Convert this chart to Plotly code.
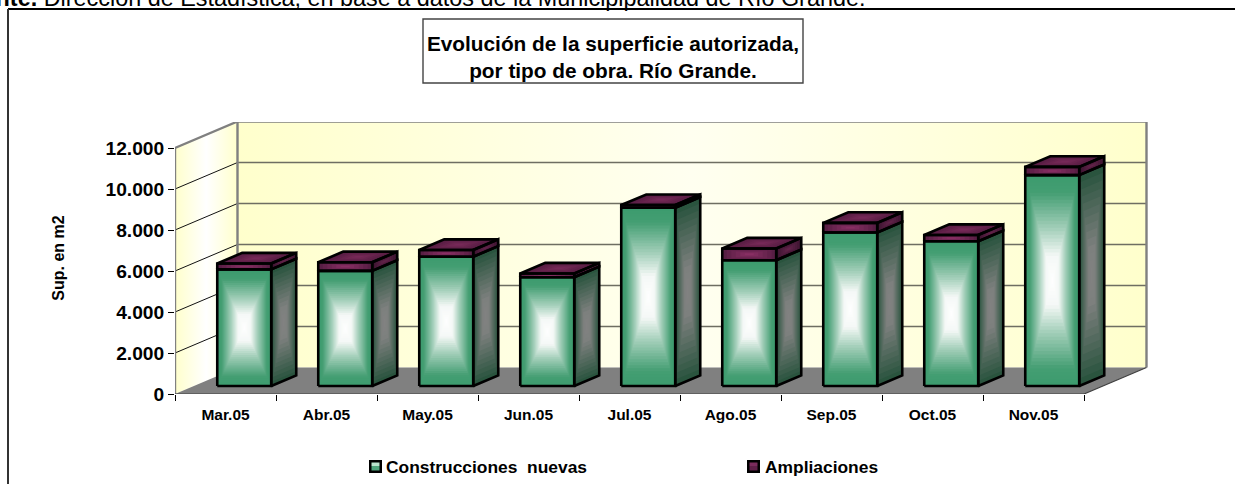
import plotly.graph_objects as go

# ---- data ----
categories = ["Mar.05", "Abr.05", "May.05", "Jun.05", "Jul.05", "Ago.05", "Sep.05", "Oct.05", "Nov.05"]
construcciones = [5690, 5620, 6310, 5310, 8700, 6140, 7490, 7060, 10290]
ampliaciones = [290, 420, 330, 180, 130, 570, 470, 310, 400]
y_ticks = [0, 2000, 4000, 6000, 8000, 10000, 12000]
y_labels = ["0", "2.000", "4.000", "6.000", "8.000", "10.000", "12.000"]

# ---- layout / projection ----
W, H = 1235, 484
L, R, T, B = 175, 1148, 122, 394
PX_X = 101.0        # px per category
PX_Y = 20.5 / 1000  # px per value unit
DX = 62.5 / PX_X    # full depth expressed in category units
DY = 26.5 / PX_Y    # full depth expressed in value units
BAR_W = 54 / PX_X
D0, D1 = 0.30, 0.70
FONT = "Liberation Sans, Arial, sans-serif"


def px(x):
    return (x - L) / (R - L)


def py(y):
    return (B - y) / (B - T)


def pj(x, v, d):
    return x + d * DX, v + d * DY


def mix(a, b, f):
    return "rgb(%d,%d,%d)" % tuple(round(a[i] + (b[i] - a[i]) * f) for i in range(3))


def ramp(stops, t):
    for (t0, c0), (t1, c1) in zip(stops, stops[1:]):
        if t <= t1:
            return mix(c0, c1, (t - t0) / (t1 - t0))
    return mix(stops[-1][1], stops[-1][1], 0)


fig = go.Figure()


def poly(points, **kw):
    xs = [p[0] for p in points] + [points[0][0]]
    ys = [p[1] for p in points] + [points[0][1]]
    fig.add_trace(go.Scatter(x=xs, y=ys, mode="none", fill="toself", hoverinfo="skip", showlegend=False, **kw))


def lines(segs, color, width):
    xs, ys = [], []
    for s in segs:
        xs += [p[0] for p in s] + [None]
        ys += [p[1] for p in s] + [None]
    fig.add_trace(go.Scatter(x=xs, y=ys, mode="lines", line=dict(color=color, width=width),
                             hoverinfo="skip", showlegend=False, cliponaxis=False))


n = len(categories)
top = y_ticks[-1]

# walls and floor
poly([pj(0, 0, 0), pj(0, top, 0), pj(0, top, 1), pj(0, 0, 1)],
     fillgradient=dict(type="horizontal", colorscale=[[0, "#FFFFCC"], [0.5, "#FFFFFF"], [1, "#FFFFCC"]]))
poly([pj(0, 0, 1), pj(0, top, 1), pj(n, top, 1), pj(n, 0, 1)],
     fillgradient=dict(type="horizontal", colorscale=[[0, "#FFFFCC"], [0.5, "#FFFFF0"], [1, "#FFFFCC"]]))
lines([[pj(0, v, 0), pj(0, v, 1)] for v in y_ticks[1:-1]], "#111111", 1)
lines([[pj(0, v, 1), pj(n, v, 1)] for v in y_ticks[1:-1]], "#6e6e62", 1.6)
poly([pj(0, 0, 0), pj(n, 0, 0), pj(n, 0, 1), pj(0, 0, 1)], fillcolor="#808080")
lines([[pj(0, 0, 1), pj(0, top, 1), pj(n, top, 1), pj(n, 0, 1)],
       [pj(0, 0, 0), pj(0, top, 0), pj(0, top, 1)]], "#808080", 2.4)
lines([[pj(n, 0, 0), pj(n, 0, 1)], [pj(0, 0, 0), pj(n, 0, 0)]], "#404040", 1.2)


def face(corners, t):
    """Corners a,b,c,d of a face, shrunk by t around its centre."""
    cx = sum(c[0] for c in corners) / 4
    cy = sum(c[1] for c in corners) / 4
    return [(cx + (c[0] - cx) * t, cy + (c[1] - cy) * t) for c in corners]


def layered(faces, stops, levels):
    for k in range(levels):
        t = 1 - k / levels
        xs, ys = [], []
        for f in faces:
            p = face(f, t)
            xs += [q[0] for q in p] + [p[0][0], None]
            ys += [q[1] for q in p] + [p[0][1], None]
        fig.add_trace(go.Scatter(x=xs, y=ys, mode="none", fill="toself",
                                 fillcolor=ramp(stops, 1 - t), hoverinfo="skip", showlegend=False))


front_g, side_g, front_m, side_m, top_m, outline = [], [], [], [], [], []
for i in range(n):
    x0 = i + 0.5 - BAR_W / 2
    x1 = i + 0.5 + BAR_W / 2
    g = construcciones[i]
    t_ = g + ampliaciones[i]
    fg = [pj(x0, 0, D0), pj(x1, 0, D0), pj(x1, g, D0), pj(x0, g, D0)]
    sg = [pj(x1, 0, D0), pj(x1, 0, D1), pj(x1, g, D1), pj(x1, g, D0)]
    fm = [pj(x0, g, D0), pj(x1, g, D0), pj(x1, t_, D0), pj(x0, t_, D0)]
    sm = [pj(x1, g, D0), pj(x1, g, D1), pj(x1, t_, D1), pj(x1, t_, D0)]
    tm = [pj(x0, t_, D0), pj(x1, t_, D0), pj(x1, t_, D1), pj(x0, t_, D1)]
    front_g.append(fg); side_g.append(sg); front_m.append(fm); side_m.append(sm); top_m.append(tm)
    for f in (fg, sg, fm, sm, tm):
        outline.append(f + [f[0]])

layered(front_g, [(0, (60, 155, 110)), (0.15, (68, 158, 115)), (0.5, (165, 208, 187)), (0.75, (244, 248, 246)), (1, (255, 255, 255))], 30)
layered(side_g, [(0, (42, 84, 62)), (0.7, (125, 128, 126)), (1, (130, 130, 130))], 14)
layered(front_m, [(0, (88, 30, 68)), (1, (145, 50, 105))], 6)
layered(side_m, [(0, (60, 20, 48)), (1, (105, 38, 78))], 6)
layered(top_m, [(0, (85, 28, 65)), (1, (125, 44, 92))], 6)
lines(outline, "#000000", 2.6)

# series traces: carry hover values and the legend entries
centres = [pj(i + 0.5, 0, (D0 + D1) / 2)[0] for i in range(n)]
fig.add_trace(go.Scatter(x=centres, y=construcciones, name="Construcciones  nuevas", mode="markers",
                         marker=dict(size=10, symbol="square", color="rgba(0,0,0,0)"),
                         text=categories, hovertemplate="%{text}: %{y}<extra>Construcciones nuevas</extra>"))
fig.add_trace(go.Scatter(x=centres, y=[a + b for a, b in zip(construcciones, ampliaciones)], name="Ampliaciones",
                         mode="markers", marker=dict(size=10, symbol="square", color="rgba(0,0,0,0)"),
                         text=categories, customdata=ampliaciones,
                         hovertemplate="%{text}: %{customdata}<extra>Ampliaciones</extra>"))


def rect(x0, y0, x1, y1, fill=None, line=None, lw=1):
    return dict(type="rect", xref="paper", yref="paper", x0=px(x0), x1=px(x1), y0=py(y0), y1=py(y1),
                fillcolor=fill, line=dict(color=line, width=lw if line else 0), layer="above")


def seg(x0, y0, x1, y1, color, lw):
    return dict(type="line", xref="paper", yref="paper", x0=px(x0), x1=px(x1), y0=py(y0), y1=py(y1),
                line=dict(color=color, width=lw), layer="above")


def swatch(x, y, mid, lo):
    return [rect(x, y, x + 13, y + 13, fill="#000000"),
            rect(x + 2.5, y + 2.5, x + 10.5, y + 6, fill=mid),
            rect(x + 2.5, y + 6, x + 10.5, y + 10.5, fill=lo)]


shapes = [seg(8, 9, W, 9, "#000000", 2), seg(8, 9, 8, H, "#333333", 2),
          rect(423, 19, 803, 83, fill="rgba(0,0,0,0)", line="#444444", lw=1.4)]
shapes += swatch(369, 460, "#B9E3CC", "#4FA57C")
shapes += swatch(747, 460, "#7A2C5C", "#5F2048")

fig.update_layout(
    width=W, height=H,
    margin=dict(l=L, r=W - R, t=T, b=H - B, pad=0, autoexpand=False),
    paper_bgcolor="white", plot_bgcolor="rgba(0,0,0,0)",
    font=dict(family=FONT, color="#000000"),
    showlegend=True,
    hovermode="closest",
    title=dict(text="<b>Evolución de la superficie autorizada,<br>por tipo de obra. Río Grande.</b>",
               font=dict(size=20.8, family=FONT), x=613 / W, xref="container", xanchor="center",
               y=1 - 51 / H, yref="container", yanchor="middle"),
    xaxis=dict(range=[0, (R - L) / PX_X], showgrid=False, zeroline=False, showline=False,
               tickmode="array", tickvals=[i + 0.5 for i in range(n)], ticktext=categories,
               ticks="", ticklabelstandoff=9, tickangle=0,
               tickfont=dict(size=15.5, family=FONT, weight=700),
               minor=dict(tickmode="array", tickvals=list(range(n + 1)), ticks="outside", ticklen=6,
                          tickcolor="#000000", tickwidth=1, showgrid=False)),
    yaxis=dict(range=[0, (B - T) / PX_Y], showgrid=False, zeroline=False, showline=False,
               tickmode="array", tickvals=y_ticks, ticktext=y_labels, ticks="outside", ticklen=6,
               tickcolor="#000000", tickwidth=1, tickfont=dict(size=19.2, family=FONT, weight=700),
               title=dict(text="<b>Sup. en m2</b>", font=dict(size=16, family=FONT), standoff=36)),
    legend=dict(orientation="h", x=px(346), xanchor="left", y=py(466), yanchor="middle",
                entrywidth=334, entrywidthmode="pixels", itemwidth=30, traceorder="normal",
                font=dict(size=17.4, family=FONT, weight=700), bgcolor="rgba(0,0,0,0)",
                itemclick=False, itemdoubleclick=False),
    shapes=shapes,
    annotations=[dict(text="<b>Fuente.</b> Dirección de Estadística, en base a datos de la Municipipalidad de Río Grande.",
                      xref="paper", yref="paper", x=px(-48), y=py(13.5), xanchor="left", yanchor="bottom",
                      showarrow=False, align="left", font=dict(size=23.4, family=FONT))],
)

fig.write_html("out.html", post_script="document.body.style.margin='0';", config={"displayModeBar": False})
